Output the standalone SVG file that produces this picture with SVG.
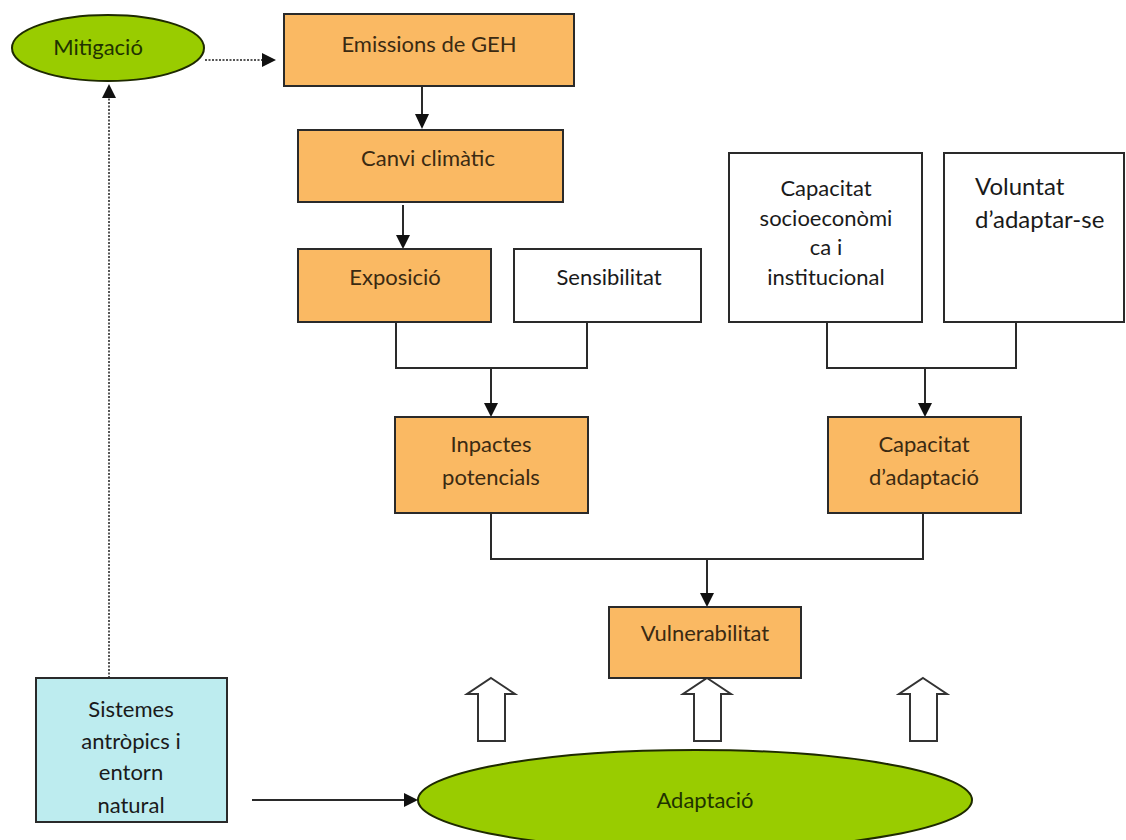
<svg xmlns="http://www.w3.org/2000/svg" width="1126" height="840" viewBox="0 0 1126 840">
<style>
.o{fill:#fab963;stroke:#2a2a2a;stroke-width:2}
.w{fill:#ffffff;stroke:#2a2a2a;stroke-width:2}
.g{fill:#99cc00;stroke:#1e2a00;stroke-width:2}
.c{fill:#bdecef;stroke:#2a2a2a;stroke-width:2}
text{font-family:Lato,"Open Sans","Liberation Sans",sans-serif;font-size:22px;text-anchor:middle}
.to{fill:#3a2a12}
.tg{fill:#1f3300}
.tb{fill:#1a1a1a}
.ln{fill:none;stroke:#2a2a2a;stroke-width:2}
.dt{fill:none;stroke:#555;stroke-width:2;stroke-dasharray:2 1.5}
.blk{fill:#fff;stroke:#333;stroke-width:2}
</style>
<defs>
<marker id="ah" viewBox="0 0 10 10" refX="10" refY="5" markerWidth="7" markerHeight="7" markerUnits="userSpaceOnUse" orient="auto">
<path d="M0,0 L10,5 L0,10 z" fill="#111"/>
</marker>
<marker id="ahb" viewBox="0 0 10 10" refX="10" refY="5" markerWidth="14" markerHeight="14" markerUnits="userSpaceOnUse" orient="auto">
<path d="M0,0 L10,5 L0,10 z" fill="#111"/>
</marker>
</defs>

<g id="connectors">
<line class="dt" x1="205" y1="60" x2="262" y2="60"/>
<path d="M262,53 L276,60 L262,67 z" fill="#111"/>
<line class="dt" x1="109" y1="678" x2="109" y2="98"/>
<path d="M102,98 L109,84 L116,98 z" fill="#111"/>
<line class="ln" x1="422" y1="86" x2="422" y2="116"/>
<path d="M415,114 L422,129 L429,114 z" fill="#111"/>
<line class="ln" x1="403" y1="205" x2="403" y2="236"/>
<path d="M396,235 L403,249 L410,235 z" fill="#111"/>
<path class="ln" d="M396,322 V368 H587 V322"/>
<line class="ln" x1="491" y1="368" x2="491" y2="404"/>
<path d="M484,403 L491,417 L498,403 z" fill="#111"/>
<path class="ln" d="M827,322 V368 H1016 V322"/>
<line class="ln" x1="925" y1="368" x2="925" y2="404"/>
<path d="M918,403 L925,417 L932,403 z" fill="#111"/>
<path class="ln" d="M491,513 V559 H923 V513"/>
<line class="ln" x1="707" y1="559" x2="707" y2="594"/>
<path d="M700,593 L707,607 L714,593 z" fill="#111"/>
<line class="ln" x1="252" y1="800" x2="406" y2="800"/>
<path d="M404,793 L418,800 L404,807 z" fill="#111"/>
<path class="blk" d="M491,678 L515,694 L505,694 L505,741 L478,741 L478,694 L467,694 z"/>
<path class="blk" d="M707,678 L731,694 L721,694 L721,741 L694,741 L694,694 L683,694 z"/>
<path class="blk" d="M923,678 L947,694 L937,694 L937,741 L910,741 L910,694 L899,694 z"/>
</g>

<g id="mitigacio">
<ellipse class="g" cx="108" cy="48" rx="96" ry="33"/>
<text class="tg" x="98" y="55">Mitigació</text>
</g>
<g id="emissions">
<rect class="o" x="284" y="14" width="290" height="72"/>
<text class="to" x="429" y="52">Emissions de GEH</text>
</g>
<g id="canvi">
<rect class="o" x="298" y="130" width="265" height="72"/>
<text class="to" x="428" y="166">Canvi climàtic</text>
</g>
<g id="exposicio">
<rect class="o" x="298" y="249" width="193" height="73"/>
<text class="to" x="395" y="285">Exposició</text>
</g>
<g id="sensibilitat">
<rect class="w" x="514" y="249" width="187" height="73"/>
<text class="tb" x="609" y="285">Sensibilitat</text>
</g>
<g id="capacitat-socio">
<rect class="w" x="729" y="153" width="193" height="169"/>
<text class="tb" x="826" y="196">Capacitat</text>
<text class="tb" x="826" y="226">socioeconòmi</text>
<text class="tb" x="826" y="255">ca i</text>
<text class="tb" x="826" y="285">institucional</text>
</g>
<g id="voluntat">
<rect class="w" x="944" y="153" width="180" height="169"/>
<text class="tb" x="975" y="195" style="text-anchor:start;font-size:24px">Voluntat</text>
<text class="tb" x="975" y="228" style="text-anchor:start;font-size:24px">d’adaptar-se</text>
</g>
<g id="inpactes">
<rect class="o" x="395" y="417" width="193" height="96"/>
<text class="to" x="491" y="452">Inpactes</text>
<text class="to" x="491" y="485">potencials</text>
</g>
<g id="capacitat-adaptacio">
<rect class="o" x="828" y="417" width="193" height="96"/>
<text class="to" x="924" y="452">Capacitat</text>
<text class="to" x="924" y="485">d’adaptació</text>
</g>
<g id="vulnerabilitat">
<rect class="o" x="609" y="607" width="192" height="71"/>
<text class="to" x="705" y="641">Vulnerabilitat</text>
</g>
<g id="sistemes">
<rect class="c" x="36" y="678" width="191" height="144"/>
<text class="tb" x="131" y="717">Sistemes</text>
<text class="tb" x="131" y="749">antròpics i</text>
<text class="tb" x="131" y="780">entorn</text>
<text class="tb" x="131" y="813">natural</text>
</g>
<g id="adaptacio">
<ellipse class="g" cx="695" cy="800" rx="277" ry="50"/>
<text class="tg" x="705" y="808">Adaptació</text>
</g>
</svg>
